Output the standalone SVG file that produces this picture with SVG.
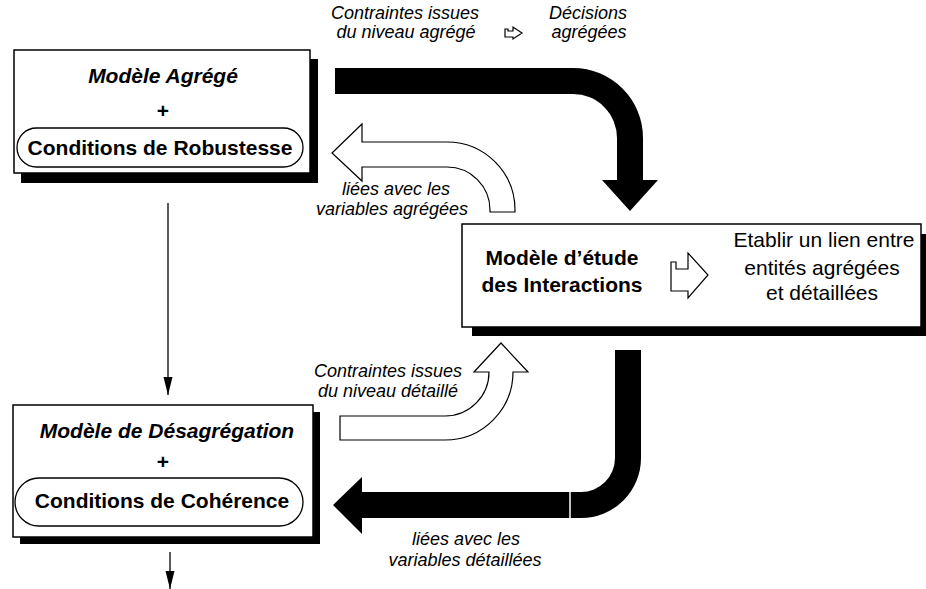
<svg xmlns="http://www.w3.org/2000/svg" width="926" height="589" viewBox="0 0 926 589">
<style>
text{font-family:"Liberation Sans",Arial,Helvetica,sans-serif;fill:#000}
.t{font-size:21px;font-weight:bold;text-anchor:middle}
.ti{font-size:21px;font-weight:bold;font-style:italic;text-anchor:middle}
.r{font-size:21px;text-anchor:middle}
.lab{font-size:18px;font-style:italic;text-anchor:middle}
.box{fill:#fff;stroke:#000;stroke-width:1.5}
.shadow{fill:#000}
.pill{fill:none;stroke:#000;stroke-width:1.3}
.black{fill:#000}
.white{fill:#fff;stroke:#000;stroke-width:1.2;stroke-linejoin:miter}
.thin{stroke:#000;stroke-width:1.3;fill:none}
</style>
<defs>
<marker id="ah" viewBox="0 0 18 10" refX="18" refY="5" markerWidth="18" markerHeight="10" orient="auto" markerUnits="userSpaceOnUse">
<path d="M0,0.5 L18,5 L0,9.5 Z" fill="#000"/>
</marker>
</defs>
<rect width="926" height="589" fill="#fff"/>

<g id="box-agrege">
<rect class="shadow" x="21" y="59" width="297" height="124"/>
<rect class="box" x="14" y="50" width="296" height="123"/>
<text class="ti" x="163" y="83">Modèle Agrégé</text>
<text class="t" x="163" y="118">+</text>
<rect class="pill" x="17" y="128" width="286" height="39" rx="19.5"/>
<text class="t" x="160" y="155">Conditions de Robustesse</text>
</g>

<g id="box-desagregation">
<rect class="shadow" x="20" y="412" width="300" height="132"/>
<rect class="box" x="13" y="405" width="300" height="132"/>
<text class="ti" x="167" y="438">Modèle de Désagrégation</text>
<text class="t" x="163" y="469">+</text>
<rect class="pill" x="15" y="478" width="288" height="48" rx="24"/>
<text class="t" x="162" y="508">Conditions de Cohérence</text>
</g>

<g id="box-interactions">
<rect class="shadow" x="472" y="234" width="460" height="102"/>
<rect class="box" x="462" y="224" width="459" height="103"/>
<text class="t" x="562" y="265">Modèle d’étude</text>
<text class="t" x="562" y="292">des Interactions</text>
<path class="white" d="M671,262 L676,262 L676,269 L688,269 L688,253 L708,275 L688,298 L688,291 L671,291 Z"/>
<text class="r" x="824" y="247">Etablir un lien entre</text>
<text class="r" x="822" y="275">entités agrégées</text>
<text class="r" x="822" y="300">et détaillées</text>
</g>

<g id="connectors">
<line class="thin" x1="168" y1="203" x2="168" y2="395" marker-end="url(#ah)"/>
<line class="thin" x1="170" y1="552" x2="170" y2="589" marker-end="url(#ah)"/>
<path class="black" d="M335,68 L573,68 A70,70 0 0 1 643,138 L643,180 L658,180 L630,211 L602,180 L617,180 L617,138 A44,44 0 0 0 573,94 L335,94 Z"/>
<path class="white" d="M332,153 L362,124 L362,142 L447,142 A68,68 0 0 1 515,210 L515,212 L490,212 L490,210 A43,43 0 0 0 447,167 L362,167 L362,181 Z"/>
<path class="white" d="M501,343 L528,372 L513,372 A68,68 0 0 1 445,440 L340,440 L340,416 L445,416 A44,44 0 0 0 489,372 L474,372 Z"/>
<path class="black" d="M615,350 L641,350 L641,458 A60,60 0 0 1 581,518 L362,518 L362,534 L333,505 L362,477 L362,492 L581,492 A34,34 0 0 0 615,458 Z"/>
<line x1="570" y1="492" x2="570" y2="518" stroke="#fff" stroke-width="1.5"/>
</g>

<g id="labels">
<text class="lab" x="405" y="19">Contraintes issues</text>
<text class="lab" x="406" y="38">du niveau agrégé</text>
<path class="white" d="M505,29 L508,29 L508,31 L513,31 L513,27 L522,33 L513,39 L513,37 L505,37 Z"/>
<text class="lab" x="588" y="19">Décisions</text>
<text class="lab" x="589" y="38">agrégées</text>
<text class="lab" x="396" y="195">liées avec les</text>
<text class="lab" x="392" y="215">variables agrégées</text>
<text class="lab" x="388" y="377">Contraintes issues</text>
<text class="lab" x="388" y="397">du niveau détaillé</text>
<text class="lab" x="466" y="545">liées avec les</text>
<text class="lab" x="465" y="566">variables détaillées</text>
</g>
</svg>
